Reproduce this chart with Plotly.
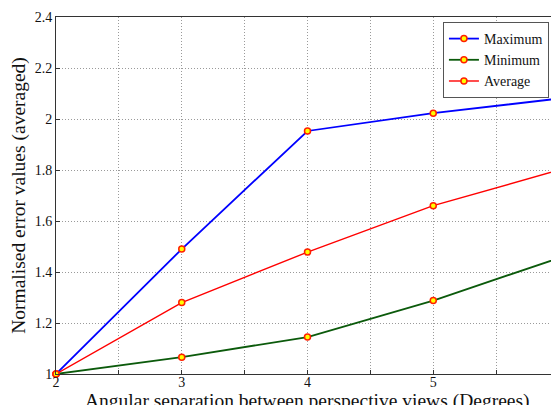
import plotly.graph_objects as go

x_vals = [2, 3, 4, 5, 6]
maximum = [1.0, 1.49, 1.953, 2.023, 2.08]
minimum = [1.0, 1.066, 1.145, 1.288, 1.455]
average = [1.0, 1.28, 1.478, 1.66, 1.80]
x_ticks = [2, 2.5, 3, 3.5, 4, 4.5, 5, 5.5, 6]
x_tick_text = ["2", "", "3", "", "4", "", "5", "", "6"]
y_ticks = [1, 1.2, 1.4, 1.6, 1.8, 2, 2.2, 2.4]
y_tick_text = ["1", "1.2", "1.4", "1.6", "1.8", "2", "2.2", "2.4"]
x_title = "Angular separation between perspective views (Degrees)"
y_title = "Normalised error values (averaged)"

font = "Liberation Serif"
marker = dict(size=6, color="#ffff00", line=dict(color="#ff2000", width=1.5))

fig = go.Figure()
for name, ys, col, w in [("Maximum", maximum, "#0000ff", 1.8),
                         ("Minimum", minimum, "#0b5a0b", 1.8),
                         ("Average", average, "#ff0000", 1.4)]:
    fig.add_trace(go.Scatter(x=x_vals, y=ys, name=name, mode="lines+markers",
                             line=dict(color=col, width=w),
                             marker=marker, cliponaxis=False))

axis_common = dict(showline=True, linecolor="#333", linewidth=1, mirror=True,
                   gridcolor="#9a9a9a", griddash="1px,2px", gridwidth=1,
                   ticks="inside", ticklen=4, tickcolor="#333",
                   tickfont=dict(family=font, size=14, color="#111"), zeroline=False)

# page body has an 8px margin: figure is offset by 8px down/right
fig.update_layout(
    width=551, height=397,
    margin=dict(l=48, r=0, t=9, b=31),
    paper_bgcolor="white", plot_bgcolor="white",
    showlegend=True,
    legend=dict(x=0.98, y=0.986, xanchor="right", yanchor="top",
                bgcolor="white", bordercolor="#555", borderwidth=1,
                font=dict(family=font, size=14, color="#111"),
                tracegroupgap=0, itemwidth=30),
    xaxis=dict(range=[2, 6], tickvals=x_ticks, ticktext=x_tick_text,
               ticklabelstandoff=-5, automargin=False, **axis_common),
    yaxis=dict(range=[1, 2.4], tickvals=y_ticks, ticktext=y_tick_text,
               title=dict(text=y_title,
                          font=dict(family=font, size=19.5, color="#111"), standoff=4),
               automargin=False, **axis_common),
    annotations=[dict(text=x_title, xref="paper", yref="paper", x=0.5, y=0,
                      xanchor="center", yanchor="middle", yshift=-27, showarrow=False,
                      font=dict(family=font, size=19.5, color="#111"))],
)

fig.write_html("out.html")
